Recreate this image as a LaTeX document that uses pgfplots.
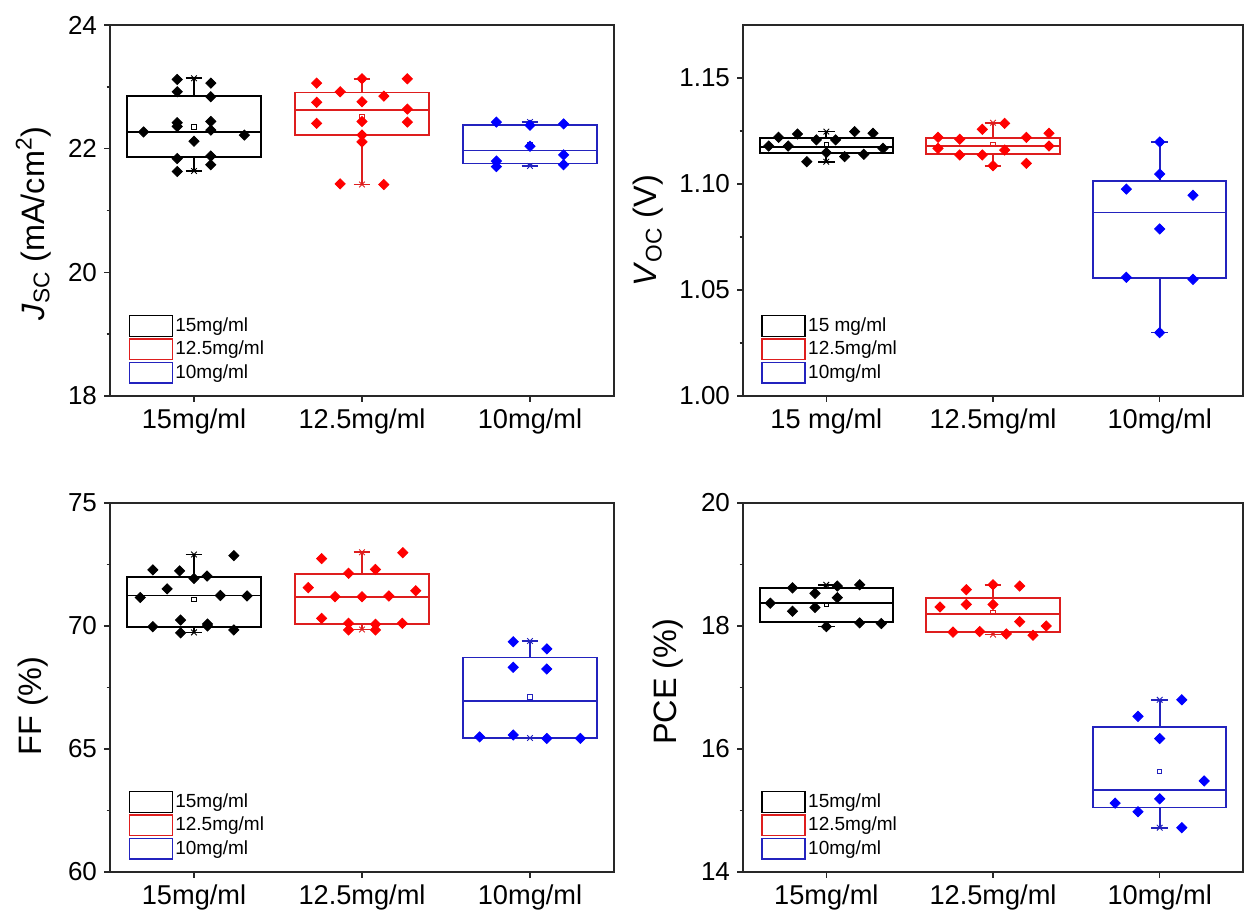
\documentclass[border=0pt]{standalone}
\usepackage{pgfplots}
\pgfplotsset{compat=1.18}
\usepgfplotslibrary{statistics}
\usepackage{fontspec}
\setmainfont{Liberation Sans}
\definecolor{myred}{RGB}{255,0,0}
\definecolor{myblue}{RGB}{0,0,255}
\definecolor{redline}{RGB}{222,30,30}
\definecolor{blueline}{RGB}{35,35,190}
\definecolor{axgray}{RGB}{40,40,40}
\pgfplotsset{
  panel/.style={
    scale only axis,
    xmin=0.5, xmax=3.5,
    xtick={1,2,3},
    axis line style={axgray, line width=0.7pt},
    tick style={axgray, line width=0.7pt},
    tick align=outside,
    xtick pos=bottom, ytick pos=left,
    major tick length=3pt, minor tick length=1.7pt,
    /pgf/number format/assume math mode=true,
    yticklabel style={font=\fontsize{13}{14}\selectfont},
    xticklabel style={font=\fontsize{13.6}{14}\selectfont},
    label style={font=\fontsize{16.2}{18}\selectfont},
    legend style={draw=none, fill=none, at={(0.036,0.032)}, anchor=south west,
      font=\fontsize{9.5}{10}\selectfont, row sep=0.6pt, inner sep=0pt,
      nodes={inner sep=1.2pt}},
    legend cell align=left,
    boxplot/draw direction=y,
  },
  bx/.style={forget plot, line width=0.85pt, solid, mark=none},
  pts/.style={forget plot, only marks, mark=square*, mark size=1.8pt, mark options={rotate=45, solid}},
  mn/.style={forget plot, only marks, mark=square, mark size=1.1pt, mark options={line width=0.45pt, solid, fill=white}},
  cap/.style={forget plot, only marks, mark=x, mark size=2pt, mark options={line width=0.45pt, solid}},
}
\newcommand{\legboxes}[1]{%
  \addlegendimage{legend image code/.code={\draw[black, line width=0.7pt] (0pt,-5.2pt) rectangle (21.5pt,5.2pt);}}
  \addlegendentry{#1}
  \addlegendimage{legend image code/.code={\draw[redline, line width=0.7pt] (0pt,-5.2pt) rectangle (21.5pt,5.2pt);}}
  \addlegendentry{12.5mg/ml}
  \addlegendimage{legend image code/.code={\draw[blueline, line width=0.7pt] (0pt,-5.2pt) rectangle (21.5pt,5.2pt);}}
  \addlegendentry{10mg/ml}
}
\begin{document}
\begin{tikzpicture}
\path[use as bounding box] (0,0) rectangle (622pt,457.5pt);

% ---------------- Panel 1: Jsc ----------------
\begin{axis}[panel, at={(55pt,259.5pt)}, anchor=south west,
  width=252pt, height=185.5pt,
  ymin=18, ymax=24, ytick={18,20,22,24}, minor ytick={19,21,23},
  xticklabels={15mg/ml, 12.5mg/ml, 10mg/ml},
  ylabel={\textit{J}\textsubscript{SC} (mA/cm\textsuperscript{2})},
  ylabel style={at={(axis description cs:-0.152,0.465)}, anchor=center}]
\legboxes{15mg/ml}
\addplot[bx, black, boxplot prepared={draw position=1, lower whisker=21.64, lower quartile=21.87, median=22.27, upper quartile=22.85, upper whisker=23.14, box extend=0.8, whisker extend=0.1}] coordinates {};
\addplot[bx, redline, boxplot prepared={draw position=2, lower whisker=21.42, lower quartile=22.22, median=22.63, upper quartile=22.91, upper whisker=23.13, box extend=0.8, whisker extend=0.1}] coordinates {};
\addplot[bx, blueline, boxplot prepared={draw position=3, lower whisker=21.72, lower quartile=21.76, median=21.97, upper quartile=22.38, upper whisker=22.43, box extend=0.8, whisker extend=0.1}] coordinates {};
\addplot[cap, black] coordinates {(1,21.64) (1,23.14)};
\addplot[cap, redline] coordinates {(2,21.42) (2,23.13)};
\addplot[cap, blueline] coordinates {(3,21.72) (3,22.43)};
\addplot[mn, black] coordinates {(1,22.35)};
\addplot[mn, redline] coordinates {(2,22.51)};
\addplot[mn, blueline] coordinates {(3,22.06)};
\addplot[pts, black] coordinates {(0.9,23.12) (0.9,22.92) (1.1,23.06) (1.1,22.84) (0.7,22.27) (0.9,22.42) (0.9,22.36) (1.1,22.44) (1.1,22.30) (1.0,22.12) (1.3,22.22) (0.9,21.84) (0.9,21.63) (1.1,21.88) (1.1,21.74)};
\addplot[pts, myred] coordinates {(1.73,23.06) (1.87,22.92) (2.0,23.13) (2.13,22.85) (2.27,23.13) (1.73,22.75) (2.0,22.76) (2.27,22.64) (1.73,22.41) (2.0,22.44) (2.27,22.43) (2.0,22.22) (2.0,22.11) (1.87,21.43) (2.13,21.42)};
\addplot[pts, myblue] coordinates {(2.8,22.43) (3.0,22.38) (3.2,22.40) (3.0,22.04) (3.2,21.90) (2.8,21.80) (2.8,21.71) (3.2,21.74)};
\end{axis}

% ---------------- Panel 2: Voc ----------------
\begin{axis}[panel, at={(371.5pt,259.5pt)}, anchor=south west,
  width=250pt, height=185.5pt,
  ymin=1.0, ymax=1.175, ytick={1.00,1.05,1.10,1.15}, minor ytick={1.025,1.075,1.125},
  yticklabel style={/pgf/number format/.cd, fixed, fixed zerofill, precision=2},
  xticklabels={15 mg/ml, 12.5mg/ml, 10mg/ml},
  ylabel={\textit{V}\textsubscript{OC} (V)},
  ylabel style={at={(axis description cs:-0.19,0.446)}, anchor=center}]
\legboxes{15 mg/ml}
\addplot[bx, black, boxplot prepared={draw position=1, lower whisker=1.1105, lower quartile=1.1146, median=1.1176, upper quartile=1.1218, upper whisker=1.1247, box extend=0.8, whisker extend=0.1}] coordinates {};
\addplot[bx, redline, boxplot prepared={draw position=2, lower whisker=1.1086, lower quartile=1.1140, median=1.1179, upper quartile=1.1218, upper whisker=1.1289, box extend=0.8, whisker extend=0.1}] coordinates {};
\addplot[bx, blueline, boxplot prepared={draw position=3, lower whisker=1.0299, lower quartile=1.0558, median=1.0866, upper quartile=1.1014, upper whisker=1.1198, box extend=0.8, whisker extend=0.1}] coordinates {};
\addplot[cap, black] coordinates {(1,1.1105) (1,1.1247)};
\addplot[cap, redline] coordinates {(2,1.1086) (2,1.1289)};
\addplot[cap, blueline] coordinates {(3,1.0299) (3,1.1198)};
\addplot[mn, black] coordinates {(1,1.1187)};
\addplot[mn, redline] coordinates {(2,1.1187)};
\addplot[mn, blueline] coordinates {(3,1.0790)};
\addplot[pts, black] coordinates {(0.654,1.1179) (0.713,1.1220) (0.771,1.1179) (0.827,1.1236) (0.883,1.1105) (0.94,1.1208) (1.0,1.1148) (1.056,1.1208) (1.11,1.1129) (1.17,1.1247) (1.225,1.1140) (1.28,1.1239) (1.34,1.1168)};
\addplot[pts, myred] coordinates {(1.67,1.1220) (1.67,1.1168) (1.8,1.1211) (1.8,1.1137) (1.936,1.1258) (1.936,1.1137) (2.0,1.1086) (2.07,1.1286) (2.07,1.1160) (2.2,1.1220) (2.2,1.1097) (2.336,1.1239) (2.336,1.1179)};
\addplot[pts, myblue] coordinates {(3,1.1198) (3,1.1047) (2.8,1.0976) (3.2,1.0947) (3,1.0788) (2.8,1.0560) (3.2,1.0550) (3,1.0299)};
\end{axis}

% ---------------- Panel 3: FF ----------------
\begin{axis}[panel, at={(55pt,21.5pt)}, anchor=south west,
  width=252pt, height=184.5pt,
  ymin=60, ymax=75, ytick={60,65,70,75}, minor ytick={62.5,67.5,72.5},
  xticklabels={15mg/ml, 12.5mg/ml, 10mg/ml},
  ylabel={FF (\%)},
  ylabel style={at={(axis description cs:-0.153,0.45)}, anchor=center}]
\legboxes{15mg/ml}
\addplot[bx, black, boxplot prepared={draw position=1, lower whisker=69.74, lower quartile=69.97, median=71.24, upper quartile=72.0, upper whisker=72.91, box extend=0.8, whisker extend=0.1}] coordinates {};
\addplot[bx, redline, boxplot prepared={draw position=2, lower whisker=69.86, lower quartile=70.07, median=71.19, upper quartile=72.11, upper whisker=73.0, box extend=0.8, whisker extend=0.1}] coordinates {};
\addplot[bx, blueline, boxplot prepared={draw position=3, lower whisker=65.45, lower quartile=65.45, median=66.94, upper quartile=68.72, upper whisker=69.39, box extend=0.8, whisker extend=0.1}] coordinates {};
\addplot[cap, black] coordinates {(1,69.74) (1,72.91)};
\addplot[cap, redline] coordinates {(2,69.86) (2,73.0)};
\addplot[cap, blueline] coordinates {(3,65.45) (3,69.39)};
\addplot[mn, black] coordinates {(1,71.08)};
\addplot[mn, redline] coordinates {(2,71.20)};
\addplot[mn, blueline] coordinates {(3,67.11)};
\addplot[pts, black] coordinates {(0.755,72.28) (0.914,72.24) (1.0,71.93) (1.078,72.03) (1.237,72.86) (0.84,71.51) (0.68,71.16) (1.157,71.24) (1.316,71.22) (0.92,70.24) (0.755,69.97) (0.92,69.72) (1.08,70.0) (1.08,70.08) (1.237,69.84)};
\addplot[pts, myred] coordinates {(1.76,72.74) (2.243,72.98) (1.92,72.14) (2.08,72.30) (1.68,71.56) (2.32,71.43) (1.84,71.19) (2.0,71.19) (2.16,71.22) (1.76,70.31) (1.92,70.11) (1.92,69.84) (2.08,70.07) (2.08,69.84) (2.24,70.11)};
\addplot[pts, myblue] coordinates {(2.9,69.36) (3.1,69.07) (2.9,68.32) (3.1,68.25) (2.7,65.49) (2.9,65.57) (3.1,65.43) (3.3,65.43)};
\end{axis}

% ---------------- Panel 4: PCE ----------------
\begin{axis}[panel, at={(371.5pt,21.5pt)}, anchor=south west,
  width=250pt, height=184.5pt,
  ymin=14, ymax=20, ytick={14,16,18,20}, minor ytick={15,17,19},
  xticklabels={15mg/ml, 12.5mg/ml, 10mg/ml},
  ylabel={PCE (\%)},
  ylabel style={at={(axis description cs:-0.15,0.515)}, anchor=center}]
\legboxes{15mg/ml}
\addplot[bx, black, boxplot prepared={draw position=1, lower whisker=17.99, lower quartile=18.07, median=18.37, upper quartile=18.62, upper whisker=18.67, box extend=0.8, whisker extend=0.1}] coordinates {};
\addplot[bx, redline, boxplot prepared={draw position=2, lower whisker=17.86, lower quartile=17.90, median=18.20, upper quartile=18.46, upper whisker=18.67, box extend=0.8, whisker extend=0.1}] coordinates {};
\addplot[bx, blueline, boxplot prepared={draw position=3, lower whisker=14.72, lower quartile=15.05, median=15.33, upper quartile=16.36, upper whisker=16.80, box extend=0.8, whisker extend=0.1}] coordinates {};
\addplot[cap, black] coordinates {(1,17.99) (1,18.67)};
\addplot[cap, redline] coordinates {(2,17.86) (2,18.67)};
\addplot[cap, blueline] coordinates {(3,14.72) (3,16.80)};
\addplot[mn, black] coordinates {(1,18.35)};
\addplot[mn, redline] coordinates {(2,18.22)};
\addplot[mn, blueline] coordinates {(3,15.63)};
\addplot[pts, black] coordinates {(0.664,18.37) (0.797,18.62) (0.797,18.24) (0.932,18.53) (0.932,18.30) (1.066,18.65) (1.066,18.46) (1.0,17.99) (1.2,18.67) (1.2,18.05) (1.33,18.04)};
\addplot[pts, myred] coordinates {(1.682,18.31) (1.84,18.59) (1.84,18.35) (2.0,18.67) (2.0,18.35) (2.16,18.65) (2.16,18.07) (2.32,18.0) (1.76,17.90) (1.92,17.91) (2.08,17.87) (2.24,17.85)};
\addplot[pts, myblue] coordinates {(3.133,16.80) (2.87,16.53) (3.0,16.17) (3.267,15.48) (3.0,15.19) (2.733,15.12) (2.87,14.98) (3.133,14.72)};
\end{axis}
\end{tikzpicture}
\end{document}
